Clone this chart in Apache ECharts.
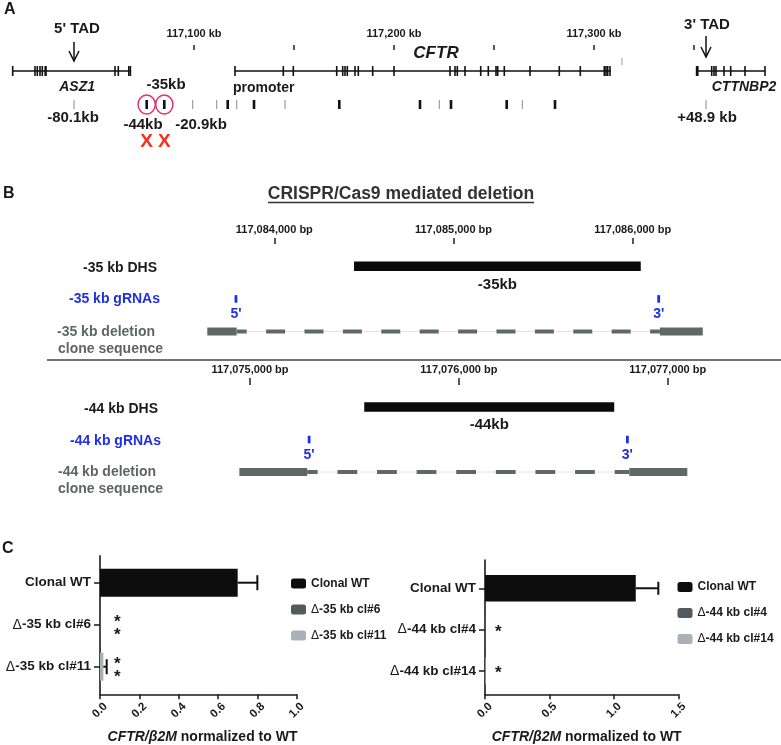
<!DOCTYPE html>
<html><head><meta charset="utf-8">
<script src="https://cdn.jsdelivr.net/npm/echarts@6/dist/echarts.min.js"></script>
<style>html,body{margin:0;padding:0;background:#fff}#c{width:781px;height:745px}</style>
</head><body><div id="c"></div>
<script>
// ================= DATA =================
// Panel A: CFTR locus, hg19 chr7 positions in kb
const locusTickKb = [117100, 117150, 117200, 117250, 117300, 117350];
const locusLabelKb = [117100, 117200, 117300];
const geneNames = ['ASZ1', 'CFTR', 'CTTNBP2'];
const geneStartKb = [117009.35, 117120.5, 117351.5];
const geneEndKb = [117068.2, 117308.5, 117385.5];
const asz1ExonKb = [117009.35, 117020.5, 117021.65, 117023, 117024.15, 117025.6, 117026, 117060.5, 117062.15, 117067.4, 117068.2];
const cftrExonKb = [117120.5, 117144.65, 117149.65, 117171.35, 117174.35, 117175.5, 117176.65, 117180.5, 117182.15, 117189.35, 117200,
  117228, 117230.5, 117231.65, 117235.5, 117243.35, 117247.15, 117251, 117251.85, 117255.15, 117268, 117282.65, 117293.15,
  117305.15, 117306, 117306.85, 117308];
const cttnbp2ExonKb = [117351.3, 117351.9, 117358.85, 117360, 117361, 117365, 117368.35, 117375.5, 117385.5];
const otherMarkKb = [117314];
const tadNames = ["5' TAD", "3' TAD"];
const tadKb = [117040, 117356];
const dhsKb = [117040, 117076.35, 117085.15, 117099.35, 117111.35, 117116.85, 117121.35, 117130, 117145.5, 117172.65,
  117213, 117222.65, 117228.5, 117256.35, 117264.15, 117280.5, 117356];
const dhsStrong = [0, 1, 1, 0, 0, 1, 0, 1, 0, 1, 1, 0, 1, 1, 0, 1, 0];
const dhsNames = ['-80.1kb', '-44kb', '-35kb', '-20.9kb', '', '', '', '', '', '', '', '', '', '', '', '', '+48.9 kb'];
const dhsTargeted = ['-44kb', '-35kb'];

// Panel B: CRISPR/Cas9 deletions, bp
const del35TickBp = [117084000, 117085000, 117086000];
const del35DhsBp = [117084445, 117086045];
const del35GrnaBp = [117083786, 117086145];
const del35CloneBp = [117083626, 117083790, 117086152, 117086391];
const del44TickBp = [117075000, 117076000, 117077000];
const del44DhsBp = [117075547, 117076744];
const del44GrnaBp = [117075283, 117076807];
const del44CloneBp = [117074949, 117075274, 117076816, 117077094];
const grnaNames = ["5'", "3'"];

// Panel C: CFTR/B2M expression
const c35Categories = ['Clonal WT', 'Δ-35 kb cl#6', 'Δ-35 kb cl#11'];
const c35Values = [0.70, 0.003, 0.017];
const c35Err = [0.10, 0, 0.017];
const c35Sig = ['', '**', '**'];
const c35Ticks = [0, 1, 0.2];
const c44Categories = ['Clonal WT', 'Δ-44 kb cl#4', 'Δ-44 kb cl#14'];
const c44Values = [1.17, 0.005, 0.005];
const c44Err = [0.175, 0, 0];
const c44Sig = ['', '*', '*'];
const c44Ticks = [0, 1.5, 0.5];

// ================= STYLE / LAYOUT =================
const FF = '"Liberation Sans", Arial, sans-serif';
const fnt = (s, w = 'bold', st = 'normal') => `${st} ${w} ${s}px ${FF}`;
const INK = '#1a1a1a';
const BLUE = '#1f2fe6';
const GREY = '#5d6666';
const BAR_COLORS = ['#0d0d0d', '#525c5e', '#a7b1b6'];
const geneLabelLayout = { 'ASZ1': [5.6, 16, 14], 'CFTR': [13, -18, 17], 'CTTNBP2': [13, 16, 14] };
const tadLayout = [{ top: -29, tip: -10, text: -42, dx: 3 }, { top: -35, tip: -14, text: -46, dx: 1 }];
const dhsLabelLayout = { '-80.1kb': [-1, 13.5], '-44kb': [-3.7, 20.5], '-35kb': [1.7, -19.5], '-20.9kb': [8.3, 20.5], '+48.9 kb': [1, 13.5] };
const dashStyle = [{ dash: [19, 19.4], offset: 9 }, { dash: [19.8, 19.8], offset: 9.4 }];

const fmtComma = v => Number(v).toLocaleString('en-US');

// ================= SERIES BUILDERS =================
function geneSeries() {
  return {
    type: 'custom', xAxisIndex: 0, yAxisIndex: 0, silent: true,
    data: geneStartKb.map((s, i) => [s, geneEndKb[i], 0, i]),
    encode: { x: [0, 1], y: 2 },
    renderItem: (p, api) => {
      const i = api.value(3);
      const a = api.coord([api.value(0), 0]), b = api.coord([api.value(1), 0]);
      const name = geneNames[i];
      const L = geneLabelLayout[name];
      const ch = [
        { type: 'line', shape: { x1: a[0], y1: a[1], x2: b[0], y2: b[1] }, style: { stroke: '#111', lineWidth: 1.5 } },
        { type: 'text', style: { text: name, x: (a[0] + b[0]) / 2 + L[0], y: a[1] + L[1], font: fnt(L[2], 'bold', 'italic'), fill: INK, align: 'center', verticalAlign: 'middle' } }
      ];
      if (name === 'CFTR') ch.push({ type: 'text', style: { text: 'promoter', x: a[0] - 2, y: a[1] + 17, font: fnt(14), fill: INK, align: 'left', verticalAlign: 'middle' } });
      return { type: 'group', children: ch };
    }
  };
}
function exonSeries() {
  const all = asz1ExonKb.concat(cftrExonKb, cttnbp2ExonKb);
  return {
    type: 'custom', xAxisIndex: 0, yAxisIndex: 0, silent: true,
    data: all.map(k => [k, 0]), encode: { x: 0, y: 1 },
    renderItem: (p, api) => {
      const c = api.coord([api.value(0), 0]);
      return { type: 'line', shape: { x1: c[0], y1: c[1] - 5, x2: c[0], y2: c[1] + 5 }, style: { stroke: '#111', lineWidth: 1.6 } };
    }
  };
}
function otherMarkSeries() {
  return {
    type: 'custom', xAxisIndex: 0, yAxisIndex: 0, silent: true,
    data: otherMarkKb.map(k => [k, 0]), encode: { x: 0, y: 1 },
    renderItem: (p, api) => {
      const c = api.coord([api.value(0), 0]);
      return { type: 'line', shape: { x1: c[0], y1: c[1] - 13, x2: c[0], y2: c[1] - 6 }, style: { stroke: '#999', lineWidth: 1 } };
    }
  };
}
function tadSeries() {
  return {
    type: 'custom', xAxisIndex: 0, yAxisIndex: 0, silent: true,
    data: tadKb.map((k, i) => [k, 0, i]), encode: { x: 0, y: 1 },
    renderItem: (p, api) => {
      const i = api.value(2), c = api.coord([api.value(0), 0]), L = tadLayout[i];
      const x = c[0], y0 = c[1];
      return {
        type: 'group', children: [
          { type: 'line', shape: { x1: x, y1: y0 + L.top, x2: x, y2: y0 + L.tip }, style: { stroke: '#111', lineWidth: 1.5 } },
          { type: 'polyline', shape: { points: [[x - 5, y0 + L.tip - 10], [x, y0 + L.tip], [x + 5, y0 + L.tip - 10]] }, style: { stroke: '#111', lineWidth: 1.5, fill: null } },
          { type: 'text', style: { text: tadNames[i], x: x + L.dx, y: y0 + L.text, font: fnt(15), fill: INK, align: 'center', verticalAlign: 'middle' } }
        ]
      };
    }
  };
}
function dhsSeries() {
  return {
    type: 'custom', xAxisIndex: 1, yAxisIndex: 1, silent: true,
    data: dhsKb.map((k, i) => [k, 0, i]), encode: { x: 0, y: 1 },
    renderItem: (p, api) => {
      const i = api.value(2), c = api.coord([api.value(0), 0]);
      const strong = dhsStrong[i];
      const ch = [{ type: 'line', shape: { x1: c[0], y1: c[1] - 4.5, x2: c[0], y2: c[1] + 4.5 }, style: { stroke: strong ? '#111' : '#8a8a8a', lineWidth: strong ? 2.6 : 1 } }];
      const name = dhsNames[i];
      if (name) {
        const L = dhsLabelLayout[name];
        ch.push({ type: 'text', style: { text: name, x: c[0] + L[0], y: c[1] + L[1], font: fnt(15), fill: INK, align: 'center', verticalAlign: 'middle' } });
      }
      if (dhsTargeted.indexOf(name) >= 0) {
        ch.push({ type: 'ellipse', shape: { cx: c[0], cy: c[1], rx: 8.6, ry: 9.5 }, style: { stroke: '#e5306a', lineWidth: 1.5, fill: null } });
        ch.push({ type: 'text', style: { text: 'X', x: c[0], y: c[1] + 37.5, font: fnt(19), fill: '#ff2a1a', align: 'center', verticalAlign: 'middle' } });
      }
      return { type: 'group', children: ch };
    }
  };
}
function delSeries(gi, dhsBp, dhsName, grnaBp, cloneBp, ds) {
  return [
    {
      type: 'custom', xAxisIndex: gi, yAxisIndex: gi, silent: true,
      data: [[dhsBp[0], dhsBp[1], 0]], encode: { x: [0, 1], y: 2 },
      renderItem: (p, api) => {
        const a = api.coord([api.value(0), 0]), b = api.coord([api.value(1), 0]);
        return {
          type: 'group', children: [
            { type: 'rect', shape: { x: a[0], y: a[1] - 4.75, width: b[0] - a[0], height: 9.5 }, style: { fill: '#0a0a0a' } },
            { type: 'text', style: { text: dhsName, x: (a[0] + b[0]) / 2, y: a[1] + 18.3, font: fnt(15), fill: INK, align: 'center', verticalAlign: 'middle' } }
          ]
        };
      }
    },
    {
      type: 'custom', xAxisIndex: gi, yAxisIndex: gi, silent: true,
      data: grnaBp.map((b, k) => [b, 1, k]), encode: { x: 0, y: 1 },
      renderItem: (p, api) => {
        const c = api.coord([api.value(0), 1]);
        return {
          type: 'group', children: [
            { type: 'rect', shape: { x: c[0] - 1.4, y: c[1] - 3.8, width: 2.8, height: 7.6 }, style: { fill: BLUE } },
            { type: 'text', style: { text: grnaNames[api.value(2)], x: c[0], y: c[1] + 15.5, font: fnt(14), fill: BLUE, align: 'center', verticalAlign: 'middle' } }
          ]
        };
      }
    },
    {
      type: 'custom', xAxisIndex: gi, yAxisIndex: gi, silent: true,
      data: [[cloneBp[0], cloneBp[1], cloneBp[2], cloneBp[3], 2]], encode: { x: [0, 1, 2, 3], y: 4 },
      renderItem: (p, api) => {
        const p0 = api.coord([api.value(0), 2]), p1 = api.coord([api.value(1), 2]);
        const p2 = api.coord([api.value(2), 2]), p3 = api.coord([api.value(3), 2]);
        const y = p0[1];
        return {
          type: 'group', children: [
            { type: 'line', shape: { x1: p1[0], y1: y, x2: p2[0], y2: y }, style: { stroke: '#e4e4e4', lineWidth: 1 } },
            { type: 'line', shape: { x1: p1[0], y1: y, x2: p2[0], y2: y }, style: { stroke: '#5f6868', lineWidth: 3.8, lineDash: ds.dash, lineDashOffset: ds.offset } },
            { type: 'rect', shape: { x: p0[0], y: y - 4, width: p1[0] - p0[0], height: 8 }, style: { fill: '#5f6868' } },
            { type: 'rect', shape: { x: p2[0], y: y - 4, width: p3[0] - p2[0], height: 8 }, style: { fill: '#5f6868' } }
          ]
        };
      }
    }
  ];
}
function barSeries(gi, cats, vals, barW) {
  return cats.map((name, k) => ({
    name, type: 'bar', xAxisIndex: gi, yAxisIndex: gi, stack: 'g' + gi, barWidth: barW, silent: true,
    itemStyle: { color: BAR_COLORS[k] },
    data: vals.map((v, j) => (j === k ? v : '-'))
  }));
}
function errSeries(gi, vals, errs, halfCap) {
  return {
    type: 'custom', xAxisIndex: gi, yAxisIndex: gi, silent: true, z: 5,
    data: vals.map((v, j) => [v, j, errs[j]]), encode: { x: 0, y: 1 },
    renderItem: (p, api) => {
      const e = api.value(2);
      if (!e) return null;
      const a = api.coord([api.value(0), api.value(1)]), b = api.coord([api.value(0) + e, api.value(1)]);
      return {
        type: 'group', children: [
          { type: 'line', shape: { x1: a[0], y1: a[1], x2: b[0], y2: b[1] }, style: { stroke: '#111', lineWidth: 2 } },
          { type: 'line', shape: { x1: b[0], y1: b[1] - halfCap, x2: b[0], y2: b[1] + halfCap }, style: { stroke: '#111', lineWidth: 2 } }
        ]
      };
    }
  };
}
function sigSeries(gi, sigs, starAt) {
  return {
    type: 'custom', xAxisIndex: gi, yAxisIndex: gi, silent: true, z: 5,
    data: sigs.map((s, j) => [starAt, j]), encode: { x: 0, y: 1 },
    renderItem: (p, api) => {
      const s = sigs[p.dataIndex];
      if (!s) return null;
      const c = api.coord([api.value(0), api.value(1)]);
      const n = s.length, ch = [];
      for (let k = 0; k < n; k++) {
        const yc = c[1] + (k - (n - 1) / 2) * 13.7 - (n === 1 ? 1.7 : 0);
        ch.push({ type: 'text', style: { text: '*', x: c[0], y: yc + 4, font: fnt(17), fill: INK, align: 'center', verticalAlign: 'middle' } });
      }
      return { type: 'group', children: ch };
    }
  };
}

// ================= AXES =================
const hidden = { show: false };
function trackX(gi, min, max, ticks, labels, fmt, offset, tickLen, margin) {
  const ax = { gridIndex: gi, type: 'value', min, max, splitLine: hidden, axisLine: hidden };
  if (!ticks) { ax.show = false; return ax; }
  Object.assign(ax, {
    position: 'top', offset,
    axisTick: { show: true, customValues: ticks, length: tickLen, lineStyle: { color: '#222', width: 1.5 } },
    axisLabel: { show: true, customValues: labels, formatter: fmt, margin, fontSize: 11, fontWeight: 'bold', fontFamily: FF, color: INK }
  });
  return ax;
}
const catY = (gi, data) => ({ gridIndex: gi, type: 'category', data, inverse: true, show: false });
const withDelta = s => s.replace('Δ', '{d|Δ}');
function frameX(gi, t) {
  return {
    gridIndex: gi, type: 'value', min: t[0], max: t[1], interval: t[2], splitLine: hidden,
    axisLine: { show: true, onZero: false, lineStyle: { color: INK, width: 1.6 } },
    axisTick: { show: true, length: 5, lineStyle: { color: INK, width: 1.5 } },
    axisLabel: { rotate: 45, align: 'center', verticalAlign: 'middle', margin: 16, formatter: v => v.toFixed(1), fontSize: 11.5, fontWeight: 'bold', fontFamily: FF, color: INK }
  };
}
const frameY = gi => ({ gridIndex: gi, type: 'value', min: 0, max: 1, splitLine: hidden, axisTick: hidden, axisLabel: hidden,
  axisLine: { show: true, lineStyle: { color: INK, width: 1.6 } } });
const dataX = (gi, t) => ({ gridIndex: gi, type: 'value', min: t[0], max: t[1], show: false });
const dataY = (gi, cats) => ({
  gridIndex: gi, type: 'category', data: cats, inverse: true, axisLine: hidden,
  axisTick: { show: true, alignWithLabel: true, length: 6, lineStyle: { color: INK, width: 1.5 } },
  axisLabel: { margin: 9, fontSize: 13.5, fontWeight: 'bold', fontFamily: FF, color: INK, formatter: withDelta,
    rich: { d: { fontWeight: 'normal', fontFamily: FF, fontSize: 14, color: INK } } }
});

const G = (o) => Object.assign({ outerBoundsMode: 'none', containLabel: false }, o);
const legendText = { fontSize: 12, fontWeight: 'bold', fontFamily: FF, color: INK, rich: { d: { fontWeight: 'normal', fontSize: 12, fontFamily: FF, color: INK } } };

const option = {
  animation: false,
  backgroundColor: '#fff',
  textStyle: { fontFamily: FF },
  grid: [
    G({ left: 4, right: 7, top: 66, height: 10 }),
    G({ left: 4, right: 7, top: 99.5, height: 10 }),
    G({ left: 95.1, right: 58.7, top: 250, height: 97.8 }),
    G({ left: 145.6, right: 8.9, top: 390.75, height: 97.5 }),
    G({ left: 100, right: 484.3, top: 555.7, bottom: 50.7 }),
    G({ left: 100, right: 484.3, top: 561.7, height: 126 }),
    G({ left: 485, right: 102.7, top: 560, bottom: 50.7 }),
    G({ left: 485, right: 102.7, top: 567.6, height: 124 })
  ],
  xAxis: [
    trackX(0, 117005, 117390, locusTickKb, locusLabelKb, v => fmtComma(v) + ' kb', 16, 5, 10.5),
    trackX(1, 117005, 117390),
    trackX(2, 117083000, 117086500, del35TickBp, del35TickBp, v => fmtComma(v) + ' bp', 6, 6, 8.5),
    trackX(3, 117074500, 117077500, del44TickBp, del44TickBp, v => fmtComma(v) + ' bp', 5.75, 7, 9.5),
    frameX(4, c35Ticks), dataX(5, c35Ticks),
    frameX(6, c44Ticks), dataX(7, c44Ticks)
  ],
  yAxis: [
    catY(0, ['genes']), catY(1, ['dhs']),
    catY(2, ['dhs', 'grna', 'clone']), catY(3, ['dhs', 'grna', 'clone']),
    frameY(4), dataY(5, c35Categories),
    frameY(6), dataY(7, c44Categories)
  ],
  legend: [
    { data: c35Categories, left: 286, top: 572.5, orient: 'vertical', icon: 'roundRect', itemWidth: 15, itemHeight: 10, itemGap: 14, selectedMode: false,
      formatter: withDelta, textStyle: legendText },
    { data: c44Categories, left: 672.5, top: 576, orient: 'vertical', icon: 'roundRect', itemWidth: 15, itemHeight: 10, itemGap: 14, selectedMode: false,
      formatter: withDelta, textStyle: legendText }
  ],
  series: [
    geneSeries(), exonSeries(), otherMarkSeries(), tadSeries(), dhsSeries(),
    ...delSeries(2, del35DhsBp, '-35kb', del35GrnaBp, del35CloneBp, dashStyle[0]),
    ...delSeries(3, del44DhsBp, '-44kb', del44GrnaBp, del44CloneBp, dashStyle[1]),
    ...barSeries(5, c35Categories, c35Values, 28),
    errSeries(5, c35Values, c35Err, 7.5),
    sigSeries(5, c35Sig, 0.088),
    ...barSeries(7, c44Categories, c44Values, 26.7),
    errSeries(7, c44Values, c44Err, 6.5),
    sigSeries(7, c44Sig, 0.103)
  ],
  graphic: [
    { type: 'text', x: 4, y: 10, style: { text: 'A', font: fnt(16), fill: INK, align: 'left', verticalAlign: 'middle' } },
    { type: 'text', x: 3, y: 194, style: { text: 'B', font: fnt(16), fill: INK, align: 'left', verticalAlign: 'middle' } },
    { type: 'text', x: 2, y: 549, style: { text: 'C', font: fnt(16), fill: INK, align: 'left', verticalAlign: 'middle' } },
    { type: 'text', x: 401, y: 194, style: { text: 'CRISPR/Cas9 mediated deletion', font: fnt(17.5), fill: '#333', align: 'center', verticalAlign: 'middle' } },
    { type: 'line', shape: { x1: 268, y1: 202.5, x2: 534, y2: 202.5 }, style: { stroke: '#333', lineWidth: 1.4 } },
    { type: 'line', shape: { x1: 47, y1: 360, x2: 781, y2: 360 }, style: { stroke: '#444', lineWidth: 1.5 } },
    { type: 'text', x: 157, y: 268, style: { text: '-35 kb DHS', font: fnt(14), fill: INK, align: 'right', verticalAlign: 'middle' } },
    { type: 'text', x: 160, y: 299, style: { text: '-35 kb gRNAs', font: fnt(14), fill: BLUE, align: 'right', verticalAlign: 'middle' } },
    { type: 'text', x: 57, y: 332, style: { text: '-35 kb deletion', font: fnt(14), fill: GREY, align: 'left', verticalAlign: 'middle' } },
    { type: 'text', x: 58, y: 349, style: { text: 'clone sequence', font: fnt(14), fill: GREY, align: 'left', verticalAlign: 'middle' } },
    { type: 'text', x: 158, y: 409, style: { text: '-44 kb DHS', font: fnt(14), fill: INK, align: 'right', verticalAlign: 'middle' } },
    { type: 'text', x: 161, y: 441, style: { text: '-44 kb gRNAs', font: fnt(14), fill: BLUE, align: 'right', verticalAlign: 'middle' } },
    { type: 'text', x: 58, y: 472, style: { text: '-44 kb deletion', font: fnt(14), fill: GREY, align: 'left', verticalAlign: 'middle' } },
    { type: 'text', x: 58, y: 489, style: { text: 'clone sequence', font: fnt(14), fill: GREY, align: 'left', verticalAlign: 'middle' } },
    { type: 'text', x: 202.5, y: 736.7, style: { text: '{i|CFTR/β2M}{n| normalized to WT}', align: 'center', verticalAlign: 'middle', fill: INK,
      rich: { i: { fontStyle: 'italic', fontWeight: 'bold', fontSize: 14, fontFamily: FF, fill: INK }, n: { fontWeight: 'bold', fontSize: 14, fontFamily: FF, fill: INK } } } },
    { type: 'text', x: 586.7, y: 736.7, style: { text: '{i|CFTR/β2M}{n| normalized to WT}', align: 'center', verticalAlign: 'middle', fill: INK,
      rich: { i: { fontStyle: 'italic', fontWeight: 'bold', fontSize: 14, fontFamily: FF, fill: INK }, n: { fontWeight: 'bold', fontSize: 14, fontFamily: FF, fill: INK } } } }
  ]
};

const chart = echarts.init(document.getElementById('c'), null, { renderer: 'canvas' });
chart.setOption(option);
</script>
</body></html>
